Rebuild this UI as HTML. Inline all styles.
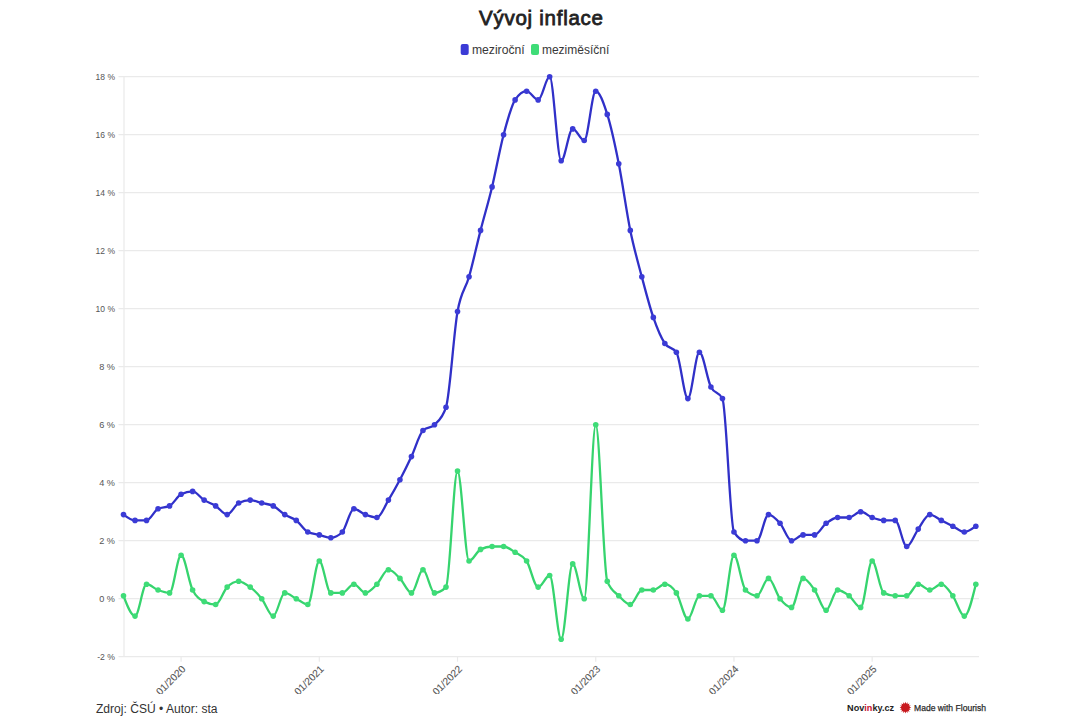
<!DOCTYPE html>
<html><head><meta charset="utf-8"><style>
html,body{margin:0;padding:0;background:#fff;}
body{width:1080px;height:720px;overflow:hidden;position:relative;font-family:"Liberation Sans",sans-serif;}
svg{position:absolute;left:0;top:0;}
</style></head><body>
<svg width="1080" height="720" viewBox="0 0 1080 720" font-family="Liberation Sans, sans-serif">
<rect width="1080" height="720" fill="#fff"/>
<text x="541" y="25" text-anchor="middle" font-size="20.5" font-weight="normal" fill="#222" stroke="#222" stroke-width="0.8" textLength="124" lengthAdjust="spacing">Vývoj inflace</text>
<rect x="460.7" y="43.9" width="8" height="11" rx="2" fill="#3b3bd6"/>
<text x="471.9" y="53.6" font-size="12.4" fill="#383838" textLength="52.8" lengthAdjust="spacingAndGlyphs">meziroční</text>
<rect x="531" y="43.9" width="8" height="11" rx="2" fill="#3edc77"/>
<text x="541.9" y="53.6" font-size="12.4" fill="#383838" textLength="67.4" lengthAdjust="spacingAndGlyphs">meziměsíční</text>
<g stroke="#eaeaea" stroke-width="1.2" shape-rendering="auto"><line x1="118.5" y1="76.70" x2="979" y2="76.70"/><line x1="118.5" y1="134.70" x2="979" y2="134.70"/><line x1="118.5" y1="192.70" x2="979" y2="192.70"/><line x1="118.5" y1="250.70" x2="979" y2="250.70"/><line x1="118.5" y1="308.70" x2="979" y2="308.70"/><line x1="118.5" y1="366.70" x2="979" y2="366.70"/><line x1="118.5" y1="424.70" x2="979" y2="424.70"/><line x1="118.5" y1="482.70" x2="979" y2="482.70"/><line x1="118.5" y1="540.70" x2="979" y2="540.70"/><line x1="118.5" y1="598.70" x2="979" y2="598.70"/><line x1="118.5" y1="656.70" x2="979" y2="656.70"/>
<line x1="124" y1="76.7" x2="124" y2="656.7"/><line x1="181.09" y1="656.70" x2="181.09" y2="661.70"/><line x1="319.31" y1="656.70" x2="319.31" y2="661.70"/><line x1="457.52" y1="656.70" x2="457.52" y2="661.70"/><line x1="595.74" y1="656.70" x2="595.74" y2="661.70"/><line x1="733.95" y1="656.70" x2="733.95" y2="661.70"/><line x1="872.17" y1="656.70" x2="872.17" y2="661.70"/></g>
<g font-size="9.8" fill="#555" text-anchor="end"><text x="115" y="80.20" textLength="19.4" lengthAdjust="spacingAndGlyphs">18 %</text><text x="115" y="138.20" textLength="19.4" lengthAdjust="spacingAndGlyphs">16 %</text><text x="115" y="196.20" textLength="19.4" lengthAdjust="spacingAndGlyphs">14 %</text><text x="115" y="254.20" textLength="19.4" lengthAdjust="spacingAndGlyphs">12 %</text><text x="115" y="312.20" textLength="19.4" lengthAdjust="spacingAndGlyphs">10 %</text><text x="115" y="370.20" textLength="15.8" lengthAdjust="spacingAndGlyphs">8 %</text><text x="115" y="428.20" textLength="15.8" lengthAdjust="spacingAndGlyphs">6 %</text><text x="115" y="486.20" textLength="15.8" lengthAdjust="spacingAndGlyphs">4 %</text><text x="115" y="544.20" textLength="15.8" lengthAdjust="spacingAndGlyphs">2 %</text><text x="115" y="602.20" textLength="15.8" lengthAdjust="spacingAndGlyphs">0 %</text><text x="115" y="660.20" textLength="17.8" lengthAdjust="spacingAndGlyphs">-2 %</text></g>
<g font-size="10.2" fill="#555" stroke="#555" stroke-width="0.1" text-anchor="end"><text transform="translate(186.29,669.70) rotate(-45)" >01/2020</text><text transform="translate(324.51,669.70) rotate(-45)" >01/2021</text><text transform="translate(462.72,669.70) rotate(-45)" >01/2022</text><text transform="translate(600.94,669.70) rotate(-45)" >01/2023</text><text transform="translate(739.15,669.70) rotate(-45)" >01/2024</text><text transform="translate(877.37,669.70) rotate(-45)" >01/2025</text></g>
<path d="M123.50,514.60C127.34,517.50,131.18,520.40,135.02,520.40C138.86,520.40,142.70,520.40,146.54,520.40C150.38,520.40,154.21,510.73,158.05,508.80C161.89,506.87,165.73,507.83,169.57,505.90C173.41,503.97,177.25,496.23,181.09,494.30C184.93,492.37,188.77,491.40,192.61,491.40C196.45,491.40,200.29,497.68,204.13,500.10C207.97,502.52,211.80,503.48,215.64,505.90C219.48,508.32,223.32,514.60,227.16,514.60C231.00,514.60,234.84,504.93,238.68,503.00C242.52,501.07,246.36,500.10,250.20,500.10C254.04,500.10,257.88,502.03,261.72,503.00C265.56,503.97,269.39,503.97,273.23,505.90C277.07,507.83,280.91,512.18,284.75,514.60C288.59,517.02,292.43,517.50,296.27,520.40C300.11,523.30,303.95,530.07,307.79,532.00C311.63,533.93,315.47,533.93,319.31,534.90C323.15,535.87,326.98,537.80,330.82,537.80C334.66,537.80,338.50,535.87,342.34,532.00C346.18,528.13,350.02,508.80,353.86,508.80C357.70,508.80,361.54,513.15,365.38,514.60C369.22,516.05,373.06,517.50,376.90,517.50C380.74,517.50,384.57,506.38,388.41,500.10C392.25,493.82,396.09,487.05,399.93,479.80C403.77,472.55,407.61,464.82,411.45,456.60C415.29,448.38,419.13,434.37,422.97,430.50C426.81,426.63,430.65,428.57,434.49,424.70C438.33,420.83,442.16,418.90,446.00,407.30C449.84,395.70,453.68,333.35,457.52,311.60C461.36,289.85,465.20,290.33,469.04,276.80C472.88,263.27,476.72,245.38,480.56,230.40C484.40,215.42,488.24,202.85,492.08,186.90C495.92,170.95,499.75,149.20,503.59,134.70C507.43,120.20,511.27,105.70,515.11,99.90C518.95,94.10,522.79,91.20,526.63,91.20C530.47,91.20,534.31,99.90,538.15,99.90C541.99,99.90,545.83,76.70,549.67,76.70C553.51,76.70,557.34,160.80,561.18,160.80C565.02,160.80,568.86,128.90,572.70,128.90C576.54,128.90,580.38,140.50,584.22,140.50C588.06,140.50,591.90,91.20,595.74,91.20C599.58,91.20,603.42,102.32,607.26,114.40C611.10,126.48,614.93,144.37,618.77,163.70C622.61,183.03,626.45,211.55,630.29,230.40C634.13,249.25,637.97,262.30,641.81,276.80C645.65,291.30,649.49,306.28,653.33,317.40C657.17,328.52,661.01,337.70,664.85,343.50C668.69,349.30,672.52,346.40,676.36,352.20C680.20,358.00,684.04,398.60,687.88,398.60C691.72,398.60,695.56,352.20,699.40,352.20C703.24,352.20,707.08,379.27,710.92,387.00C714.76,394.73,718.60,390.87,722.44,398.60C726.28,406.33,730.11,526.20,733.95,532.00C737.79,537.80,741.63,540.70,745.47,540.70C749.31,540.70,753.15,540.70,756.99,540.70C760.83,540.70,764.67,514.60,768.51,514.60C772.35,514.60,776.19,518.95,780.03,523.30C783.87,527.65,787.70,540.70,791.54,540.70C795.38,540.70,799.22,534.90,803.06,534.90C806.90,534.90,810.74,534.90,814.58,534.90C818.42,534.90,822.26,526.20,826.10,523.30C829.94,520.40,833.78,517.50,837.62,517.50C841.46,517.50,845.29,517.50,849.13,517.50C852.97,517.50,856.81,511.70,860.65,511.70C864.49,511.70,868.33,516.05,872.17,517.50C876.01,518.95,879.85,520.40,883.69,520.40C887.53,520.40,891.37,520.40,895.21,520.40C899.05,520.40,902.88,546.50,906.72,546.50C910.56,546.50,914.40,534.42,918.24,529.10C922.08,523.78,925.92,514.60,929.76,514.60C933.60,514.60,937.44,518.47,941.28,520.40C945.12,522.33,948.96,524.27,952.80,526.20C956.64,528.13,960.47,532.00,964.31,532.00C968.15,532.00,971.99,529.10,975.83,526.20" fill="none" stroke="#3030c8" stroke-width="2.3" stroke-linejoin="round"/>
<g fill="#3b3bd6"><circle cx="123.50" cy="514.60" r="2.8"/><circle cx="135.02" cy="520.40" r="2.8"/><circle cx="146.54" cy="520.40" r="2.8"/><circle cx="158.05" cy="508.80" r="2.8"/><circle cx="169.57" cy="505.90" r="2.8"/><circle cx="181.09" cy="494.30" r="2.8"/><circle cx="192.61" cy="491.40" r="2.8"/><circle cx="204.13" cy="500.10" r="2.8"/><circle cx="215.64" cy="505.90" r="2.8"/><circle cx="227.16" cy="514.60" r="2.8"/><circle cx="238.68" cy="503.00" r="2.8"/><circle cx="250.20" cy="500.10" r="2.8"/><circle cx="261.72" cy="503.00" r="2.8"/><circle cx="273.23" cy="505.90" r="2.8"/><circle cx="284.75" cy="514.60" r="2.8"/><circle cx="296.27" cy="520.40" r="2.8"/><circle cx="307.79" cy="532.00" r="2.8"/><circle cx="319.31" cy="534.90" r="2.8"/><circle cx="330.82" cy="537.80" r="2.8"/><circle cx="342.34" cy="532.00" r="2.8"/><circle cx="353.86" cy="508.80" r="2.8"/><circle cx="365.38" cy="514.60" r="2.8"/><circle cx="376.90" cy="517.50" r="2.8"/><circle cx="388.41" cy="500.10" r="2.8"/><circle cx="399.93" cy="479.80" r="2.8"/><circle cx="411.45" cy="456.60" r="2.8"/><circle cx="422.97" cy="430.50" r="2.8"/><circle cx="434.49" cy="424.70" r="2.8"/><circle cx="446.00" cy="407.30" r="2.8"/><circle cx="457.52" cy="311.60" r="2.8"/><circle cx="469.04" cy="276.80" r="2.8"/><circle cx="480.56" cy="230.40" r="2.8"/><circle cx="492.08" cy="186.90" r="2.8"/><circle cx="503.59" cy="134.70" r="2.8"/><circle cx="515.11" cy="99.90" r="2.8"/><circle cx="526.63" cy="91.20" r="2.8"/><circle cx="538.15" cy="99.90" r="2.8"/><circle cx="549.67" cy="76.70" r="2.8"/><circle cx="561.18" cy="160.80" r="2.8"/><circle cx="572.70" cy="128.90" r="2.8"/><circle cx="584.22" cy="140.50" r="2.8"/><circle cx="595.74" cy="91.20" r="2.8"/><circle cx="607.26" cy="114.40" r="2.8"/><circle cx="618.77" cy="163.70" r="2.8"/><circle cx="630.29" cy="230.40" r="2.8"/><circle cx="641.81" cy="276.80" r="2.8"/><circle cx="653.33" cy="317.40" r="2.8"/><circle cx="664.85" cy="343.50" r="2.8"/><circle cx="676.36" cy="352.20" r="2.8"/><circle cx="687.88" cy="398.60" r="2.8"/><circle cx="699.40" cy="352.20" r="2.8"/><circle cx="710.92" cy="387.00" r="2.8"/><circle cx="722.44" cy="398.60" r="2.8"/><circle cx="733.95" cy="532.00" r="2.8"/><circle cx="745.47" cy="540.70" r="2.8"/><circle cx="756.99" cy="540.70" r="2.8"/><circle cx="768.51" cy="514.60" r="2.8"/><circle cx="780.03" cy="523.30" r="2.8"/><circle cx="791.54" cy="540.70" r="2.8"/><circle cx="803.06" cy="534.90" r="2.8"/><circle cx="814.58" cy="534.90" r="2.8"/><circle cx="826.10" cy="523.30" r="2.8"/><circle cx="837.62" cy="517.50" r="2.8"/><circle cx="849.13" cy="517.50" r="2.8"/><circle cx="860.65" cy="511.70" r="2.8"/><circle cx="872.17" cy="517.50" r="2.8"/><circle cx="883.69" cy="520.40" r="2.8"/><circle cx="895.21" cy="520.40" r="2.8"/><circle cx="906.72" cy="546.50" r="2.8"/><circle cx="918.24" cy="529.10" r="2.8"/><circle cx="929.76" cy="514.60" r="2.8"/><circle cx="941.28" cy="520.40" r="2.8"/><circle cx="952.80" cy="526.20" r="2.8"/><circle cx="964.31" cy="532.00" r="2.8"/><circle cx="975.83" cy="526.20" r="2.8"/></g>
<path d="M123.50,595.80C127.34,605.95,131.18,616.10,135.02,616.10C138.86,616.10,142.70,584.20,146.54,584.20C150.38,584.20,154.21,588.55,158.05,590.00C161.89,591.45,165.73,592.90,169.57,592.90C173.41,592.90,177.25,555.20,181.09,555.20C184.93,555.20,188.77,582.27,192.61,590.00C196.45,597.73,200.29,599.67,204.13,601.60C207.97,603.53,211.80,604.50,215.64,604.50C219.48,604.50,223.32,590.97,227.16,587.10C231.00,583.23,234.84,581.30,238.68,581.30C242.52,581.30,246.36,584.20,250.20,587.10C254.04,590.00,257.88,593.87,261.72,598.70C265.56,603.53,269.39,616.10,273.23,616.10C277.07,616.10,280.91,592.90,284.75,592.90C288.59,592.90,292.43,596.77,296.27,598.70C300.11,600.63,303.95,604.50,307.79,604.50C311.63,604.50,315.47,561.00,319.31,561.00C323.15,561.00,326.98,592.90,330.82,592.90C334.66,592.90,338.50,592.90,342.34,592.90C346.18,592.90,350.02,584.20,353.86,584.20C357.70,584.20,361.54,592.90,365.38,592.90C369.22,592.90,373.06,588.07,376.90,584.20C380.74,580.33,384.57,569.70,388.41,569.70C392.25,569.70,396.09,574.53,399.93,578.40C403.77,582.27,407.61,592.90,411.45,592.90C415.29,592.90,419.13,569.70,422.97,569.70C426.81,569.70,430.65,592.90,434.49,592.90C438.33,592.90,442.16,590.97,446.00,587.10C449.84,583.23,453.68,471.10,457.52,471.10C461.36,471.10,465.20,561.00,469.04,561.00C472.88,561.00,476.72,551.33,480.56,549.40C484.40,547.47,488.24,546.50,492.08,546.50C495.92,546.50,499.75,546.50,503.59,546.50C507.43,546.50,511.27,549.88,515.11,552.30C518.95,554.72,522.79,555.20,526.63,561.00C530.47,566.80,534.31,587.10,538.15,587.10C541.99,587.10,545.83,575.50,549.67,575.50C553.51,575.50,557.34,639.30,561.18,639.30C565.02,639.30,568.86,563.90,572.70,563.90C576.54,563.90,580.38,598.70,584.22,598.70C588.06,598.70,591.90,424.70,595.74,424.70C599.58,424.70,603.42,571.63,607.26,581.30C611.10,590.97,614.93,591.93,618.77,595.80C622.61,599.67,626.45,604.50,630.29,604.50C634.13,604.50,637.97,590.00,641.81,590.00C645.65,590.00,649.49,590.00,653.33,590.00C657.17,590.00,661.01,584.20,664.85,584.20C668.69,584.20,672.52,587.10,676.36,592.90C680.20,598.70,684.04,619.00,687.88,619.00C691.72,619.00,695.56,595.80,699.40,595.80C703.24,595.80,707.08,595.80,710.92,595.80C714.76,595.80,718.60,610.30,722.44,610.30C726.28,610.30,730.11,555.20,733.95,555.20C737.79,555.20,741.63,586.13,745.47,590.00C749.31,593.87,753.15,595.80,756.99,595.80C760.83,595.80,764.67,578.40,768.51,578.40C772.35,578.40,776.19,593.87,780.03,598.70C783.87,603.53,787.70,607.40,791.54,607.40C795.38,607.40,799.22,578.40,803.06,578.40C806.90,578.40,810.74,584.68,814.58,590.00C818.42,595.32,822.26,610.30,826.10,610.30C829.94,610.30,833.78,590.00,837.62,590.00C841.46,590.00,845.29,592.90,849.13,595.80C852.97,598.70,856.81,607.40,860.65,607.40C864.49,607.40,868.33,561.00,872.17,561.00C876.01,561.00,879.85,590.97,883.69,592.90C887.53,594.83,891.37,595.80,895.21,595.80C899.05,595.80,902.88,595.80,906.72,595.80C910.56,595.80,914.40,584.20,918.24,584.20C922.08,584.20,925.92,590.00,929.76,590.00C933.60,590.00,937.44,584.20,941.28,584.20C945.12,584.20,948.96,590.48,952.80,595.80C956.64,601.12,960.47,616.10,964.31,616.10C968.15,616.10,971.99,600.15,975.83,584.20" fill="none" stroke="#36d46e" stroke-width="2.3" stroke-linejoin="round"/>
<g fill="#3edc77"><circle cx="123.50" cy="595.80" r="2.8"/><circle cx="135.02" cy="616.10" r="2.8"/><circle cx="146.54" cy="584.20" r="2.8"/><circle cx="158.05" cy="590.00" r="2.8"/><circle cx="169.57" cy="592.90" r="2.8"/><circle cx="181.09" cy="555.20" r="2.8"/><circle cx="192.61" cy="590.00" r="2.8"/><circle cx="204.13" cy="601.60" r="2.8"/><circle cx="215.64" cy="604.50" r="2.8"/><circle cx="227.16" cy="587.10" r="2.8"/><circle cx="238.68" cy="581.30" r="2.8"/><circle cx="250.20" cy="587.10" r="2.8"/><circle cx="261.72" cy="598.70" r="2.8"/><circle cx="273.23" cy="616.10" r="2.8"/><circle cx="284.75" cy="592.90" r="2.8"/><circle cx="296.27" cy="598.70" r="2.8"/><circle cx="307.79" cy="604.50" r="2.8"/><circle cx="319.31" cy="561.00" r="2.8"/><circle cx="330.82" cy="592.90" r="2.8"/><circle cx="342.34" cy="592.90" r="2.8"/><circle cx="353.86" cy="584.20" r="2.8"/><circle cx="365.38" cy="592.90" r="2.8"/><circle cx="376.90" cy="584.20" r="2.8"/><circle cx="388.41" cy="569.70" r="2.8"/><circle cx="399.93" cy="578.40" r="2.8"/><circle cx="411.45" cy="592.90" r="2.8"/><circle cx="422.97" cy="569.70" r="2.8"/><circle cx="434.49" cy="592.90" r="2.8"/><circle cx="446.00" cy="587.10" r="2.8"/><circle cx="457.52" cy="471.10" r="2.8"/><circle cx="469.04" cy="561.00" r="2.8"/><circle cx="480.56" cy="549.40" r="2.8"/><circle cx="492.08" cy="546.50" r="2.8"/><circle cx="503.59" cy="546.50" r="2.8"/><circle cx="515.11" cy="552.30" r="2.8"/><circle cx="526.63" cy="561.00" r="2.8"/><circle cx="538.15" cy="587.10" r="2.8"/><circle cx="549.67" cy="575.50" r="2.8"/><circle cx="561.18" cy="639.30" r="2.8"/><circle cx="572.70" cy="563.90" r="2.8"/><circle cx="584.22" cy="598.70" r="2.8"/><circle cx="595.74" cy="424.70" r="2.8"/><circle cx="607.26" cy="581.30" r="2.8"/><circle cx="618.77" cy="595.80" r="2.8"/><circle cx="630.29" cy="604.50" r="2.8"/><circle cx="641.81" cy="590.00" r="2.8"/><circle cx="653.33" cy="590.00" r="2.8"/><circle cx="664.85" cy="584.20" r="2.8"/><circle cx="676.36" cy="592.90" r="2.8"/><circle cx="687.88" cy="619.00" r="2.8"/><circle cx="699.40" cy="595.80" r="2.8"/><circle cx="710.92" cy="595.80" r="2.8"/><circle cx="722.44" cy="610.30" r="2.8"/><circle cx="733.95" cy="555.20" r="2.8"/><circle cx="745.47" cy="590.00" r="2.8"/><circle cx="756.99" cy="595.80" r="2.8"/><circle cx="768.51" cy="578.40" r="2.8"/><circle cx="780.03" cy="598.70" r="2.8"/><circle cx="791.54" cy="607.40" r="2.8"/><circle cx="803.06" cy="578.40" r="2.8"/><circle cx="814.58" cy="590.00" r="2.8"/><circle cx="826.10" cy="610.30" r="2.8"/><circle cx="837.62" cy="590.00" r="2.8"/><circle cx="849.13" cy="595.80" r="2.8"/><circle cx="860.65" cy="607.40" r="2.8"/><circle cx="872.17" cy="561.00" r="2.8"/><circle cx="883.69" cy="592.90" r="2.8"/><circle cx="895.21" cy="595.80" r="2.8"/><circle cx="906.72" cy="595.80" r="2.8"/><circle cx="918.24" cy="584.20" r="2.8"/><circle cx="929.76" cy="590.00" r="2.8"/><circle cx="941.28" cy="584.20" r="2.8"/><circle cx="952.80" cy="595.80" r="2.8"/><circle cx="964.31" cy="616.10" r="2.8"/><circle cx="975.83" cy="584.20" r="2.8"/></g>
<rect x="0" y="694" width="1080" height="26" fill="#fff"/>
<text x="96" y="713.4" font-size="12" fill="#333" textLength="121.5" lengthAdjust="spacingAndGlyphs">Zdroj: ČSÚ • Autor: sta</text>
<text x="847.1" y="711" font-size="9.6" font-weight="bold" fill="#222" textLength="47" lengthAdjust="spacingAndGlyphs">Nov<tspan fill="#c8102e">in</tspan>ky.cz</text>
<g transform="translate(905.4,707.6)" fill="#c8191e"><polygon points='5.80,0.00 3.92,0.78 5.36,2.22 3.33,2.22 4.10,4.10 2.22,3.33 2.22,5.36 0.78,3.92 0.00,5.80 -0.78,3.92 -2.22,5.36 -2.22,3.33 -4.10,4.10 -3.33,2.22 -5.36,2.22 -3.92,0.78 -5.80,0.00 -3.92,-0.78 -5.36,-2.22 -3.33,-2.22 -4.10,-4.10 -2.22,-3.33 -2.22,-5.36 -0.78,-3.92 -0.00,-5.80 0.78,-3.92 2.22,-5.36 2.22,-3.33 4.10,-4.10 3.33,-2.22 5.36,-2.22 3.92,-0.78'/></g>
<text x="914" y="711" font-size="9.2" fill="#2b2b2b" stroke="#2b2b2b" stroke-width="0.25" textLength="72" lengthAdjust="spacingAndGlyphs">Made with Flourish</text>
</svg>
</body></html>
